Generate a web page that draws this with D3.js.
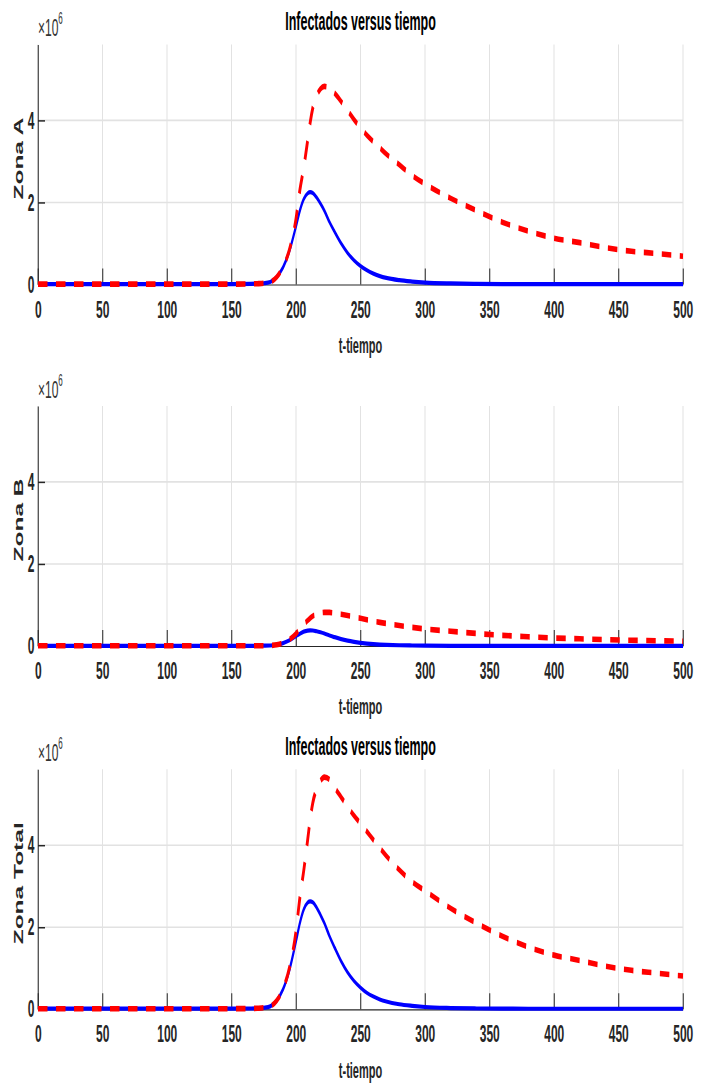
<!DOCTYPE html>
<html><head><meta charset="utf-8">
<script src="https://cdn.jsdelivr.net/npm/d3@7"></script>
<style>body{margin:0;background:#fff}svg{display:block}</style>
</head><body>
<svg id="chart" width="705" height="1086"></svg>
<script>
// ---- data (values in units of 10^6) ----
const times = [0,50,100,150,165,170,175,180,185,190,195,200,203,206,209,211,213,216,219,222,226,230,235,240,245,250,255,260,265,270,280,290,300,320,340,360,380,400,420,440,460,480,500];
const zonaA_solid = [0.01,0.01,0.01,0.01,0.015,0.02,0.03,0.06,0.18,0.42,0.83,1.42,1.8,2.08,2.22,2.25,2.23,2.12,1.97,1.8,1.52,1.28,1.0,0.77,0.59,0.45,0.345,0.265,0.205,0.16,0.105,0.072,0.048,0.026,0.016,0.011,0.01,0.01,0.01,0.01,0.01,0.01,0.01];
const zonaA_dashed = [0.01,0.01,0.01,0.01,0.015,0.02,0.03,0.06,0.18,0.43,0.86,1.6,2.3,2.85,3.5,3.95,4.3,4.6,4.77,4.83,4.78,4.66,4.46,4.24,4.02,3.82,3.64,3.48,3.33,3.18,2.92,2.66,2.45,2.1,1.8,1.52,1.3,1.13,1.02,0.9,0.81,0.755,0.69];
const zonaB_solid = [0.005,0.005,0.005,0.005,0.005,0.005,0.007,0.012,0.03,0.07,0.14,0.24,0.3,0.35,0.375,0.38,0.378,0.36,0.335,0.305,0.255,0.215,0.168,0.13,0.1,0.076,0.058,0.045,0.035,0.028,0.018,0.012,0.008,0.005,0.004,0.004,0.004,0.004,0.004,0.004,0.004,0.004,0.004];
const zonaB_dashed = [0.005,0.005,0.005,0.005,0.005,0.005,0.007,0.012,0.03,0.075,0.16,0.3,0.42,0.53,0.62,0.68,0.73,0.77,0.8,0.82,0.82,0.8,0.775,0.745,0.71,0.675,0.64,0.605,0.575,0.55,0.5,0.455,0.415,0.36,0.305,0.26,0.225,0.195,0.175,0.155,0.14,0.128,0.117];
const zonaT_solid = [0.015,0.015,0.015,0.015,0.02,0.025,0.037,0.072,0.21,0.49,0.97,1.66,2.1,2.43,2.6,2.63,2.61,2.48,2.3,2.1,1.78,1.5,1.17,0.9,0.69,0.53,0.4,0.31,0.24,0.19,0.123,0.084,0.056,0.031,0.02,0.015,0.014,0.014,0.014,0.014,0.014,0.014,0.014];
const zonaT_dashed = [0.015,0.015,0.015,0.015,0.02,0.025,0.037,0.072,0.21,0.5,1.02,1.9,2.72,3.38,4.12,4.63,5.03,5.37,5.57,5.66,5.6,5.4,5.17,4.94,4.72,4.53,4.33,4.13,3.93,3.74,3.4,3.11,2.89,2.46,2.1,1.78,1.52,1.32,1.19,1.05,0.95,0.88,0.81];
const xTicks = [0,50,100,150,200,250,300,350,400,450,500];
const yTicks = [0,2,4];
const yDomain = [0,5.85];
const xDomain = [0,500];
const titleText = "Infectados versus tiempo";
const xLabelText = "t-tiempo";
const yLabelTexts = ["Zona A","Zona B","Zona Total"];
const showTitle = [true,false,true];

// ---- layout ----
const SX = 0.5; // horizontal squeeze of the whole figure
const FONT = "'Liberation Sans', Arial, Helvetica, sans-serif";
const svg = d3.select("#chart");
const root = svg.append("g").attr("transform", `scale(${SX},1)`);
const x = d3.scaleLinear().domain(xDomain).range([76, 1366]);
const panels = [
  {top:44.5, bottom:284.5, solid:zonaA_solid, dashed:zonaA_dashed},
  {top:406, bottom:646, solid:zonaB_solid, dashed:zonaB_dashed},
  {top:769.3, bottom:1009.3, solid:zonaT_solid, dashed:zonaT_dashed}
];

panels.forEach((p, i) => {
  const y = d3.scaleLinear().domain(yDomain).range([p.bottom, p.top]);
  const g = root.append("g");

  // grid
  g.append("g").selectAll("line").data(xTicks).join("line")
    .attr("x1", d => x(d)).attr("x2", d => x(d))
    .attr("y1", p.top).attr("y2", p.bottom)
    .attr("stroke", "#e2e2e2").attr("stroke-width", 2);
  g.append("g").selectAll("line").data(yTicks.filter(d => d > 0)).join("line")
    .attr("x1", x(xDomain[0])).attr("x2", x(xDomain[1]))
    .attr("y1", d => y(d)).attr("y2", d => y(d))
    .attr("stroke", "#e2e2e2").attr("stroke-width", 1.6);

  // x axis
  const xa = g.append("g").attr("transform", `translate(0,${p.bottom})`)
    .call(d3.axisBottom(x).tickValues(xTicks).tickFormat(d3.format("d")).tickSizeInner(-16).tickSizeOuter(0).tickPadding(16));
  xa.select(".domain").attr("stroke", "#262626").attr("stroke-width", 1.2);
  xa.selectAll(".tick line").attr("stroke", "#262626").attr("stroke-width", 2);
  xa.selectAll("text").attr("font-family", FONT).attr("font-size", 24).attr("font-weight", "bold").attr("fill", "#262626");

  // y axis
  const ya = g.append("g").attr("transform", `translate(${x(xDomain[0])},0)`)
    .call(d3.axisLeft(y).tickValues(yTicks).tickFormat(d3.format("d")).tickSizeInner(-14).tickSizeOuter(0).tickPadding(7));
  ya.select(".domain").attr("stroke", "#262626").attr("stroke-width", 2);
  ya.selectAll(".tick line").attr("stroke", "#262626").attr("stroke-width", 1.5);
  ya.selectAll("text").attr("font-family", FONT).attr("font-size", 24).attr("font-weight", "bold").attr("fill", "#262626");

  // lines
  const line = d3.line().x((d, j) => x(times[j])).y(d => y(d)).curve(d3.curveMonotoneX);
  g.append("path").datum(p.solid).attr("d", line)
    .attr("fill", "none").attr("stroke", "#0000ff").attr("stroke-width", 4.2).attr("stroke-linejoin", "round");
  g.append("path").datum(p.dashed).attr("d", line)
    .attr("fill", "none").attr("stroke", "#ff0000").attr("stroke-width", 5.6)
    .attr("stroke-dasharray", "19,17").attr("stroke-linecap", "butt");

  // exponent label
  const ex = g.append("text").attr("x", x(xDomain[0])).attr("y", p.top - 8)
    .attr("font-family", FONT).attr("font-size", 24).attr("fill", "#333");
  ex.append("tspan").text("×10");
  ex.append("tspan").attr("dy", -12).attr("font-size", 16).text("6");

  // title
  if (showTitle[i]) {
    g.append("text").attr("x", (x(xDomain[0]) + x(xDomain[1])) / 2).attr("y", p.top - 14)
      .attr("text-anchor", "middle").attr("font-family", FONT).attr("font-size", 25)
      .attr("font-weight", "bold").attr("fill", "#000").text(titleText);
  }

  // x label
  g.append("text").attr("x", (x(xDomain[0]) + x(xDomain[1])) / 2).attr("y", p.bottom + 68.5)
    .attr("text-anchor", "middle").attr("font-family", FONT).attr("font-size", 22)
    .attr("font-weight", "bold").attr("fill", "#262626").text(xLabelText);

  // y label
  g.append("text").attr("transform", `translate(46,${(p.top + p.bottom) / 2 - 6}) rotate(-90)`)
    .attr("text-anchor", "middle").attr("font-family", FONT).attr("font-size", 24.5)
    .attr("font-weight", "bold").attr("fill", "#262626").text(yLabelTexts[i]);
});
</script>
</body></html>
